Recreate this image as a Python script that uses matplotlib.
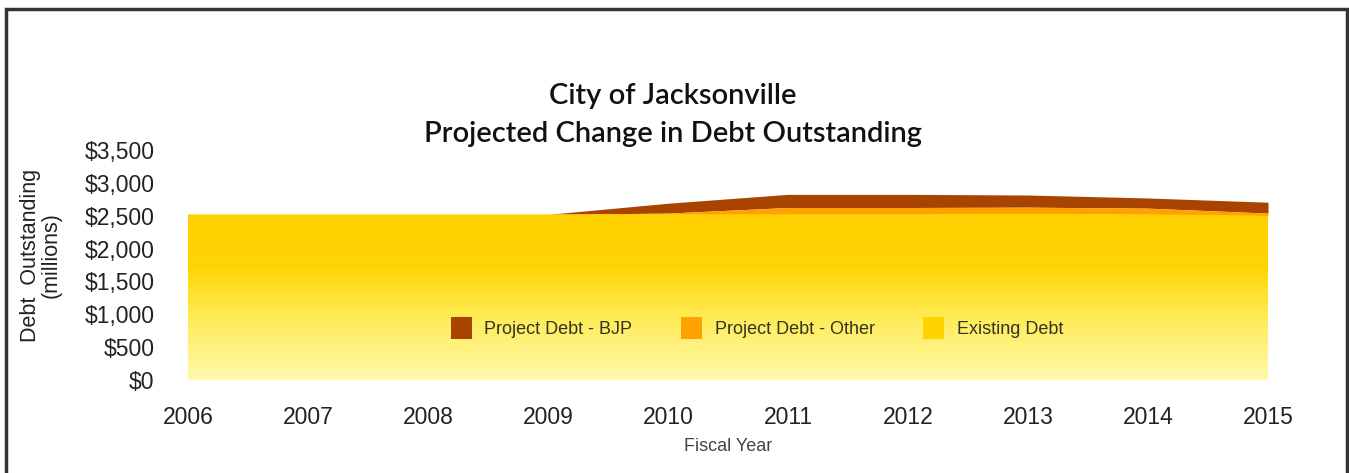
import numpy as np
import matplotlib
matplotlib.use("Agg")
import matplotlib.pyplot as plt
from matplotlib.patches import Patch, Rectangle
from matplotlib.colors import LinearSegmentedColormap

# ---- data ----
years = [2006, 2007, 2008, 2009, 2010, 2011, 2012, 2013, 2014, 2015]
existing_debt = [2520, 2520, 2520, 2520, 2520, 2520, 2520, 2530, 2520, 2500]
project_other = [0, 0, 0, 0, 20, 105, 105, 100, 95, 40]
project_bjp = [0, 0, 0, 0, 150, 200, 200, 185, 155, 165]
y_ticks = [0, 500, 1000, 1500, 2000, 2500, 3000, 3500]
y_tick_labels = ["$0", "$500", "$1,000", "$1,500", "$2,000", "$2,500", "$3,000", "$3,500"]
series_names = ["Project Debt - BJP", "Project Debt - Other", "Existing Debt"]

c_bjp = "#A84300"
c_other = "#FFA200"
c_exist = "#FFD200"

fig = plt.figure(figsize=(13.49, 4.73), dpi=100)
ax = fig.add_axes([188/1349, 1 - 380/473, 1080/1349, 230/473])

x = np.array(years, dtype=float)
e = np.array(existing_debt, dtype=float)
o = e + np.array(project_other, dtype=float)
b = o + np.array(project_bjp, dtype=float)

ax.fill_between(x, o, b, color=c_bjp, linewidth=0)
ax.fill_between(x, e, o, color=c_other, linewidth=0)
poly = ax.fill_between(x, 0, e, color="none", linewidth=0)

# vertical gradient for existing debt
cmap = LinearSegmentedColormap.from_list(
    "g", [(0.0, (1.0, 0.978, 0.68)), (0.35, (1.0, 0.93, 0.36)),
          (0.68, (1.0, 0.835, 0.02)), (1.0, (1.0, 0.82, 0.0))])
grad = np.linspace(0, 1, 256).reshape(-1, 1)
im = ax.imshow(grad, extent=[years[0], years[-1], 0, max(existing_debt)],
               origin="lower", aspect="auto", cmap=cmap, zorder=1)
im.set_clip_path(poly.get_paths()[0], transform=ax.transData)

ax.set_xlim(years[0], years[-1])
ax.set_ylim(0, 3500)
ax.set_xticks(years)
ax.set_xticklabels([str(y) for y in years], fontsize=16.5, color="#222222",
                   family="Liberation Sans")
ax.set_yticks(y_ticks)
ax.set_yticklabels(y_tick_labels, fontsize=16.5, color="#222222",
                   family="Liberation Sans")
ax.tick_params(axis="x", length=0, pad=19)
ax.tick_params(axis="y", length=0, pad=24)
for s in ax.spines.values():
    s.set_visible(False)
ax.patch.set_visible(False)

ax.set_xlabel("Fiscal Year", fontsize=13, color="#444444", family="Liberation Sans", labelpad=6)
fig.text(41/1349, 1 - 255/473, "Debt  Outstanding\n(millions)", rotation=90,
         ha="center", va="center", multialignment="center", fontsize=15.5,
         color="#222222", family="Liberation Sans", linespacing=0.95)

fig.text(673/1349, 1 - 96/473, "City of Jacksonville", ha="center", va="center",
         fontsize=21, color="#111111", family="Lato", fontweight="semibold")
fig.text(673/1349, 1 - 134/473, "Projected Change in Debt Outstanding", ha="center",
         va="center", fontsize=21, color="#111111", family="Lato", fontweight="semibold")

handles = [Patch(facecolor=c_bjp), Patch(facecolor=c_other), Patch(facecolor=c_exist)]
leg = ax.legend(handles, series_names, ncol=3, frameon=False, loc="center",
                bbox_to_anchor=((757-188)/1080, (380-328)/230),
                prop={"family": "Liberation Sans", "size": 13},
                handlelength=1.15, handleheight=1.5, handletextpad=0.7, columnspacing=2.7)
for t in leg.get_texts():
    t.set_color("#333322")

# outer frame
fig.add_artist(Rectangle((5.5/1349, -0.05), (1346.5-5.5)/1349, 1 - 9.5/473 + 0.05,
                         transform=fig.transFigure, fill=False, edgecolor="#333333",
                         linewidth=2.5))

fig.savefig("out.png", dpi=100)
